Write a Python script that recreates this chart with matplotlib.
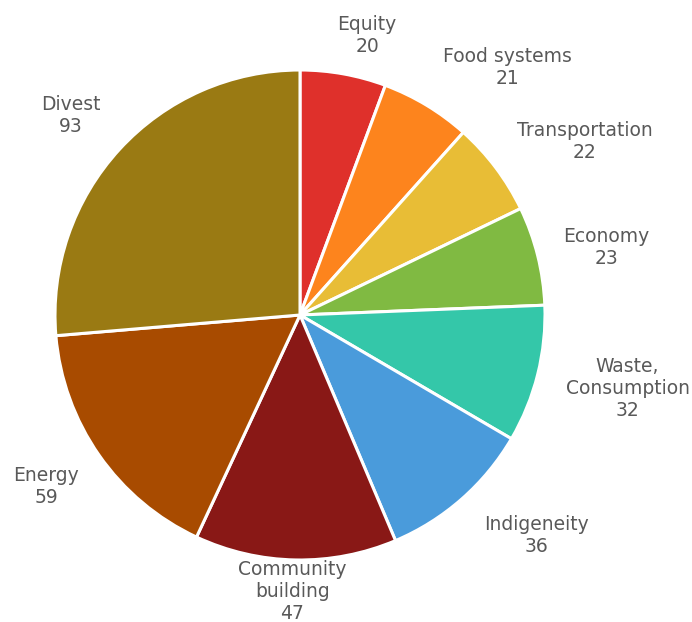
import math
import matplotlib
matplotlib.use("Agg")
import matplotlib.pyplot as plt

# Topics and counts, clockwise from 12 o'clock
categories = ["Equity", "Food systems", "Transportation", "Economy",
              "Waste,\nConsumption", "Indigeneity", "Community\nbuilding",
              "Energy", "Divest"]
counts = [20, 21, 22, 23, 32, 36, 47, 59, 93]
colors = ["#DF302B", "#FD841D", "#E8BD36", "#80BA42", "#34C7A9",
          "#4A9BDB", "#891816", "#A84B00", "#9A7A13"]

# Label placement: (angle clockwise from top in degrees, radius multiple)
label_layout = [(13.5, 1.175), (40.0, 1.32), (58.6, 1.36), (77.5, 1.28),
                (102.6, 1.37), (133.0, 1.32), (181.6, 1.13), (236.0, 1.25),
                (311.0, 1.24)]

W, H = 692, 622
fig = plt.figure(figsize=(W / 100, H / 100), dpi=100)
ax = fig.add_axes([0, 0, 1, 1])

cx, cy, R = 300, H - 315, 245
ax.pie(counts, colors=colors, startangle=90, counterclock=False,
       radius=R, center=(cx, cy), frame=True,
       wedgeprops=dict(edgecolor="white", linewidth=2.2))
ax.set_xlim(0, W)
ax.set_ylim(0, H)
ax.set_aspect("equal")
ax.axis("off")

for name, val, (ang, rf) in zip(categories, counts, label_layout):
    a = math.radians(ang)
    x = cx + R * rf * math.sin(a)
    y = cy + R * rf * math.cos(a)
    ax.text(x, y, f"{name}\n{val}", ha="center", va="center",
            multialignment="center", fontsize=13.5, color="#595959",
            family="DejaVu Sans", linespacing=1.2)

fig.savefig("out.png", dpi=100, facecolor="white")
